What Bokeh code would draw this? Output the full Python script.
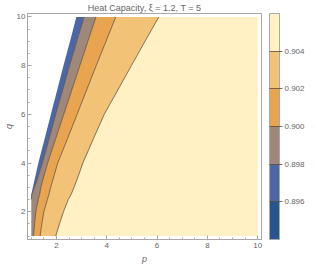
from bokeh.plotting import figure
from bokeh.models import (Range1d, SingleIntervalTicker, ColorBar,
                          LinearColorMapper, FixedTicker, PrintfTickFormatter)
from bokeh.embed import file_html
from bokeh.resources import INLINE

# ---- data (contour boundaries p(q)) ----
q_levels = [1, 1.5, 2, 2.5, 2.7, 3, 3.5, 4, 5, 6, 7, 8, 9, 10]
edge_domain = [1.00, 1.00, 1.00, 1.00, 1.00, 1.06, 1.17, 1.28, 1.53, 1.78, 2.03, 2.28, 2.54, 2.79]
c_0898 = [1.00, 1.00, 1.00, 1.00, 1.02, 1.13, 1.29, 1.44, 1.71, 1.97, 2.25, 2.52, 2.81, 3.10]
c_0900 = [1.09, 1.13, 1.18, 1.28, 1.33, 1.38, 1.51, 1.65, 1.97, 2.29, 2.61, 2.93, 3.25, 3.57]
c_0902 = [1.35, 1.42, 1.50, 1.64, 1.70, 1.77, 1.91, 2.05, 2.44, 2.82, 3.20, 3.58, 3.97, 4.36]
c_0904 = [1.97, 2.12, 2.28, 2.47, 2.58, 2.70, 2.88, 3.05, 3.47, 3.90, 4.44, 4.98, 5.52, 6.07]
p_max = 10

levels = [0.894, 0.896, 0.898, 0.900, 0.902, 0.904, 0.906]
band_colors = ["#27558f", "#4c67a7", "#9f887a", "#e9a44f", "#f2c277", "#fff1c4"]
tick_levels = [0.896, 0.898, 0.900, 0.902, 0.904]
title_text = "Heat Capacity, \u03be = 1.2, T = 5"

FONT = "Liberation Sans"
GREY = "#a8a8a8"
TXT = "#666666"

p = figure(width=307, height=266, output_backend="svg", toolbar_location=None,
           x_range=Range1d(0.85, 10.15), y_range=Range1d(0.86, 10.14),
           min_border_left=0, min_border_top=0, min_border_right=0, min_border_bottom=0)
p.grid.visible = False
p.outline_line_color = GREY
p.background_fill_color = "white"

p.title.text = title_text
p.title.text_font = FONT
p.title.text_font_size = "9px"
p.title.text_font_style = "normal"
p.title.text_color = TXT
p.title.align = "center"
p.title.standoff = 1
p.title.offset = 0

# ---- filled bands ----
p_right = [p_max] * len(q_levels)
bounds = [edge_domain, c_0898, c_0900, c_0902, c_0904, p_right]
for i in range(5):
    p.harea(x1=bounds[i], x2=bounds[i + 1], y=q_levels,
            fill_color=band_colors[i + 1])

# ---- contour lines ----
for b in [c_0898, c_0900, c_0902, c_0904]:
    idx = [k for k in range(len(q_levels)) if b[k] > 1.0 or (k + 1 < len(b) and b[k + 1] > 1.0)]
    p.line([b[k] for k in idx], [q_levels[k] for k in idx],
           line_color="#5a4a3a", line_alpha=0.75, line_width=1)

# ---- axes ----
for ax in (p.xaxis[0], p.yaxis[0]):
    ax.ticker = SingleIntervalTicker(interval=2, num_minor_ticks=4)
    ax.axis_line_color = GREY
    ax.major_tick_line_color = GREY
    ax.minor_tick_line_color = GREY
    ax.major_tick_in = 4
    ax.major_tick_out = 0
    ax.minor_tick_in = 2
    ax.minor_tick_out = 0
    ax.major_label_text_font = FONT
    ax.major_label_text_color = TXT
    ax.major_label_text_font_size = "8px"
    ax.major_label_standoff = 3
    ax.axis_label_text_font = FONT
    ax.axis_label_text_font_style = "italic"
    ax.axis_label_text_font_size = "9px"
    ax.axis_label_text_color = TXT
    ax.axis_label_standoff = 3

p.xaxis.axis_label = "p"
p.yaxis.axis_label = "q"
p.yaxis.axis_label_standoff = 0
p.yaxis.major_label_standoff = 2

mapper = LinearColorMapper(palette=band_colors, low=levels[0], high=levels[-1])

# invisible spacer between the frame and the colour bar (no ticks, no labels)
spacer = ColorBar(color_mapper=mapper, width=8, ticker=FixedTicker(ticks=[]),
                  scale_alpha=0, bar_line_color=None, major_tick_line_color=None,
                  minor_tick_line_color=None, label_standoff=0,
                  padding=0, margin=0, background_fill_alpha=0, border_line_color=None)
p.add_layout(spacer, "right")

# ---- colour bar ----
cb = ColorBar(color_mapper=mapper, width=10, ticker=FixedTicker(ticks=tick_levels),
              formatter=PrintfTickFormatter(format="%.3f"),
              major_tick_in=10, major_tick_out=3,
              major_tick_line_color="#5a4a3a", major_tick_line_alpha=0.8,
              major_label_text_font=FONT, major_label_text_font_size="8px",
              major_label_text_color=TXT, label_standoff=2,
              bar_line_color=GREY, padding=0, margin=0,
              background_fill_alpha=0)
p.add_layout(cb, "right")

open("out.html", "w").write(file_html(p, INLINE))
